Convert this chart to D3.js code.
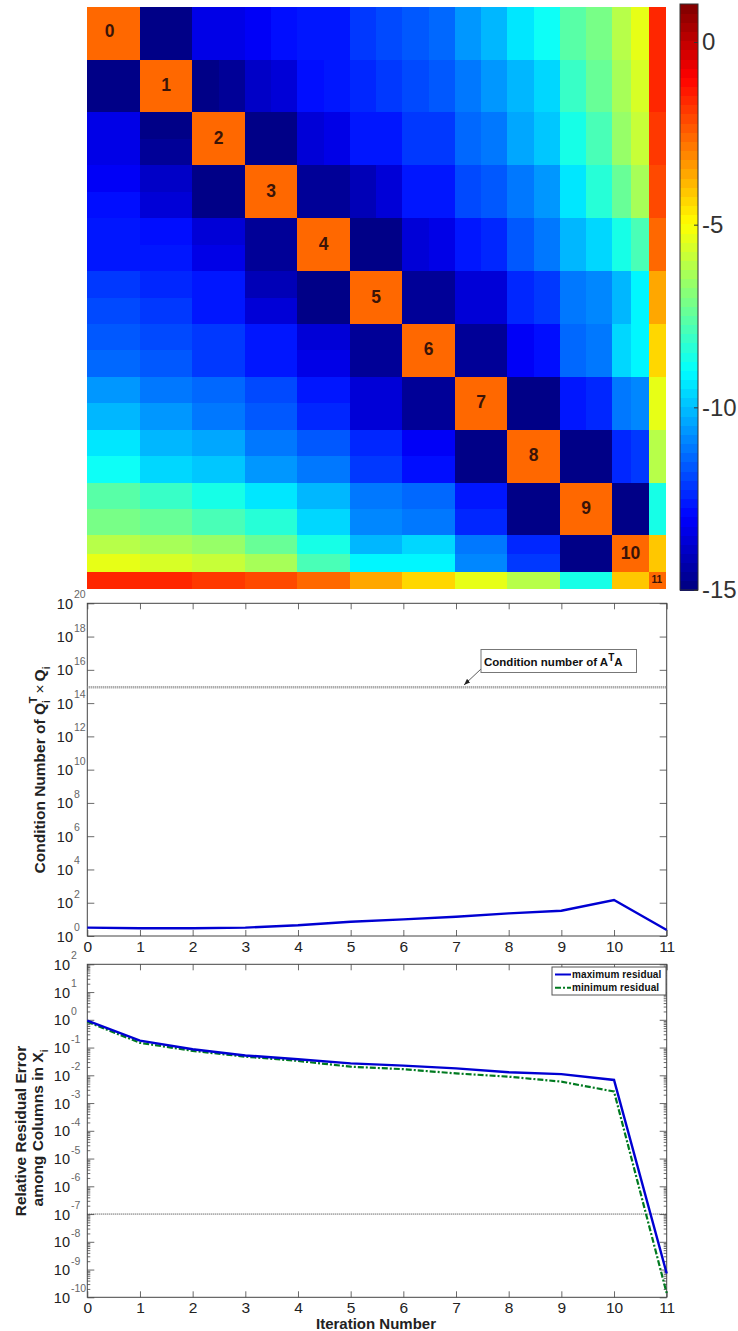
<!DOCTYPE html>
<html><head><meta charset="utf-8">
<script src="https://cdn.jsdelivr.net/npm/d3@7/dist/d3.min.js"></script>
<style>
html,body{margin:0;padding:0;background:#fff}
svg{display:block}
text{font-family:"Liberation Sans",Arial,sans-serif}
</style></head><body>
<svg id="c" width="738" height="1331"></svg>
<script>
// ---------- heat map data (log10 |Qi^T Qj|) ----------
const blockLabels = ["0","1","2","3","4","5","6","7","8","9","10","11"];
const blockSizes = [32,32,32,32,32,32,32,32,32,32,22,10];
const diagonalValue = -2.6;
// each row lists, for blocks right of the diagonal, [near half, far half]
const row0  = [[-14.9,-14.9],[-13.4,-13.3],[-13.1,-12.9],[-12.7,-12.5],[-12.2,-11.8],[-11.7,-11.3],[-10.6,-10.1],[-9.4,-8.8],[-7.7,-7.0],[-6.0,-5.3],[-1.6,-1.6]];
const row1  = [[-14.8,-14.7],[-13.8,-13.6],[-12.8,-12.6],[-12.3,-12.0],[-11.8,-11.6],[-11.0,-10.6],[-10.0,-9.5],[-8.2,-7.3],[-6.4,-5.5],[-1.6,-1.6]];
const row2  = [[-14.8,-14.8],[-13.5,-13.4],[-12.7,-12.6],[-12.2,-12.0],[-11.3,-11.0],[-10.3,-9.9],[-8.5,-7.8],[-6.7,-5.8],[-1.8,-1.8]];
const row3  = [[-14.7,-14.7],[-14.2,-13.5],[-12.7,-12.5],[-11.9,-11.6],[-11.0,-10.6],[-9.3,-8.4],[-7.3,-6.3],[-2.0,-2.0]];
const row4  = [[-14.8,-14.8],[-13.5,-13.4],[-12.6,-12.3],[-11.7,-11.2],[-10.0,-9.5],[-8.7,-7.8],[-2.6,-2.6]];
const row5  = [[-14.6,-14.6],[-13.7,-13.6],[-12.3,-12.0],[-11.0,-10.8],[-10.0,-9.1],[-3.6,-3.6]];
const row6  = [[-14.7,-14.7],[-13.1,-12.8],[-11.3,-11.0],[-9.5,-9.1],[-4.4,-4.4]];
const row7  = [[-14.8,-14.8],[-12.6,-12.4],[-11.2,-10.9],[-5.4,-5.4]];
const row8  = [[-14.8,-14.8],[-12.4,-12.2],[-6.0,-6.0]];
const row9  = [[-14.9,-14.9],[-8.5,-8.5]];
const row10 = [[-4.2,-4.2]];
const offDiagonal = [row0,row1,row2,row3,row4,row5,row6,row7,row8,row9,row10];
const colorMin = -15, colorMax = 1.04;
const colorTicks = [-15,-10,-5,0];

// ---------- line charts ----------
const iterations = [0,1,2,3,4,5,6,7,8,9,10,11];
const conditionQ = [3.2,2.9,2.9,3.2,4.4,7.2,10,14.5,23,33,145,2.3];
const conditionA = 9e14;
const conditionDecades = [0,2,4,6,8,10,12,14,16,18,20];
const maxResidual = [0.93,0.178,0.087,0.052,0.038,0.027,0.0224,0.0178,0.0129,0.011,0.0068,7.2e-10];
const minResidual = [0.85,0.148,0.076,0.047,0.033,0.0204,0.0166,0.0117,0.0089,0.0059,0.0026,1.4e-10];
const residualTarget = 1e-7;
const residualDecades = [-10,-9,-8,-7,-6,-5,-4,-3,-2,-1,0,1,2];
const minorMultipliers = [2,3,4,5,6,7,8,9];

const svg = d3.select("#c");
const defs = svg.append("defs");
defs.append("filter").attr("id","soft").attr("x","0").attr("y","0").attr("width","1").attr("height","1")
  .append("feGaussianBlur").attr("stdDeviation",0.7);
const arrow = defs.append("marker").attr("id","arrow").attr("viewBox","0 0 8 6").attr("refX",8).attr("refY",3)
  .attr("markerWidth",8).attr("markerHeight",6).attr("orient","auto");
arrow.append("path").attr("d","M0,0L8,3L0,6Z").attr("fill","#222");

// jet colour map
function jet(t){
  const c = x => Math.max(0,Math.min(1,x));
  const r = c(Math.min(4*t-1.5,-4*t+4.5)), g = c(Math.min(4*t-0.5,-4*t+3.5)), b = c(Math.min(4*t+0.5,-4*t+2.5));
  return d3.rgb(r*255,g*255,b*255);
}
const colorT = v => (v-colorMin)/(colorMax-colorMin);
const levels = d3.range(64);
const stepped = v => jet((Math.min(63,Math.floor(colorT(v)*64))+0.5)/64);

// ---------- heat map ----------
const total = d3.sum(blockSizes);
const edges = [0]; blockSizes.forEach(s=>edges.push(edges[edges.length-1]+s));
const hx = d3.scaleLinear().domain([0,total]).range([87.3,665]);
const hy = d3.scaleLinear().domain([0,total]).range([6.7,588.3]);
const cells = [];
blockSizes.forEach((si,i)=>{
  cells.push({x0:edges[i],x1:edges[i+1],y0:edges[i],y1:edges[i+1],v:diagonalValue});
  if(i<offDiagonal.length) offDiagonal[i].forEach((pair,k)=>{
    const j=i+1+k, s=blockSizes[j]/2;
    pair.forEach((v,h)=>{
      const a=edges[j]+h*s, b=a+s;
      cells.push({x0:a,x1:b,y0:edges[i],y1:edges[i+1],v});
      cells.push({x0:edges[i],x1:edges[i+1],y0:a,y1:b,v});
    });
  });
});
const heat = svg.append("g").attr("filter","url(#soft)").attr("shape-rendering","crispEdges");
heat.selectAll("rect").data(cells).join("rect")
  .attr("x",d=>hx(d.x0)).attr("y",d=>hy(d.y0))
  .attr("width",d=>hx(d.x1)-hx(d.x0)+0.6).attr("height",d=>hy(d.y1)-hy(d.y0)+0.6)
  .attr("fill",d=>stepped(d.v));
svg.append("g").selectAll("text").data(blockLabels).join("text")
  .attr("x",(d,i)=>(hx(edges[i])+hx(edges[i+1]))/2-(i===0?4:0))
  .attr("y",(d,i)=>(hy(edges[i])+hy(edges[i+1]))/2-(i===0?2:1))
  .attr("text-anchor","middle").attr("dominant-baseline","central")
  .attr("font-weight","bold").attr("font-size",(d,i)=>i===11?10:17.5).attr("fill","#3a1408").text(d=>d);

// ---------- colour bar ----------
const cbY = d3.scaleLinear().domain([colorMin,colorMax]).range([590,4]);
const cbX0=680, cbX1=698;
svg.append("g").attr("shape-rendering","crispEdges").selectAll("rect").data(levels).join("rect")
  .attr("x",cbX0).attr("width",cbX1-cbX0)
  .attr("y",i=>cbY(colorMin+(i+1)/64*(colorMax-colorMin)))
  .attr("height",i=>cbY(colorMin+i/64*(colorMax-colorMin))-cbY(colorMin+(i+1)/64*(colorMax-colorMin))+0.6)
  .attr("fill",i=>jet((i+0.5)/64));
svg.append("rect").attr("x",cbX0).attr("y",4).attr("width",cbX1-cbX0).attr("height",586)
  .attr("fill","none").attr("stroke","#333").attr("stroke-width",1);
const cbAxis = svg.append("g").attr("transform",`translate(${cbX1},0)`)
  .call(d3.axisRight(cbY).tickValues(colorTicks).tickFormat(d=>d3.format("d")(d).replace("−","-")).tickSize(-4).tickPadding(4));
cbAxis.select(".domain").remove();
cbAxis.selectAll("line").attr("stroke","#333");
cbAxis.selectAll("text").attr("font-size",24).attr("fill","#333").attr("font-family",'"Liberation Sans",Arial,sans-serif');

// ---------- shared line chart frame ----------
function frame(top,bottom,domain,decades,baseEndX,minor){
  const left=87.3,right=666.7;
  const x=d3.scaleLinear().domain([0,11]).range([left,right]);
  const y=d3.scaleLog().domain(domain).range([bottom,top]);
  const g=svg.append("g");
  const major=decades.map(d=>Math.pow(10,d));
  g.append("g").attr("transform",`translate(0,${bottom})`)
    .call(d3.axisBottom(x).tickValues(iterations).tickFormat(d3.format("d")).tickSize(-6).tickPadding(4.5))
    .call(a=>{a.select(".domain").remove();
      a.selectAll("text").attr("font-size",15.5).attr("fill","#222").attr("font-family",'"Liberation Sans",Arial,sans-serif');});
  g.append("g").attr("transform",`translate(0,${top})`)
    .call(d3.axisTop(x).tickValues(iterations).tickFormat("").tickSize(-6))
    .call(a=>a.select(".domain").remove());
  g.append("g").attr("transform",`translate(${left},0)`)
    .call(d3.axisLeft(y).tickValues(major).tickFormat("").tickSize(-7))
    .call(a=>a.select(".domain").remove());
  g.append("g").attr("transform",`translate(${right},0)`)
    .call(d3.axisRight(y).tickValues(major).tickFormat("").tickSize(-7))
    .call(a=>a.select(".domain").remove());
  if(minor){
    const mins=[]; decades.slice(0,-1).forEach(d=>minorMultipliers.forEach(m=>mins.push(m*Math.pow(10,d))));
    g.append("g").attr("transform",`translate(${left},0)`)
      .call(d3.axisLeft(y).tickValues(mins).tickFormat("").tickSize(-3)).call(a=>a.select(".domain").remove());
    g.append("g").attr("transform",`translate(${right},0)`)
      .call(d3.axisRight(y).tickValues(mins).tickFormat("").tickSize(-3)).call(a=>a.select(".domain").remove());
  }
  g.selectAll("line").attr("stroke","#444").attr("stroke-width",0.8);
  g.append("rect").attr("x",left).attr("y",top).attr("width",right-left).attr("height",bottom-top)
    .attr("fill","none").attr("stroke","#444").attr("stroke-width",1);
  // tick labels: base "10" and its exponent
  const labels=g.append("g");
  labels.selectAll("text.base").data(decades).join("text").attr("class","base")
    .attr("x",baseEndX).attr("y",d=>y(Math.pow(10,d))+5.5).attr("text-anchor","end")
    .attr("font-size",14.5).attr("fill","#222").text("10");
  labels.selectAll("text.exp").data(decades).join("text").attr("class","exp")
    .attr("x",baseEndX+1).attr("y",d=>y(Math.pow(10,d))-5).attr("text-anchor","start")
    .attr("font-size",10.5).attr("fill","#666").text(d=>d);
  return {x,y,left,right};
}
const lineOf=(s)=>d3.line().x((d,i)=>s.x(iterations[i])).y(d=>s.y(d));

// ---------- condition number chart ----------
const c2=frame(603.3,936,[1,1e20],conditionDecades,73,false);
svg.append("line").attr("x1",c2.left).attr("x2",c2.right).attr("y1",c2.y(conditionA)).attr("y2",c2.y(conditionA))
  .attr("stroke","#888").attr("stroke-width",2.4).attr("stroke-dasharray","1 1");
svg.append("path").datum(conditionQ).attr("d",lineOf(c2)).attr("fill","none").attr("stroke","#0000d2").attr("stroke-width",2.4);
svg.append("line").attr("x1",481).attr("y1",669).attr("x2",464).attr("y2",685)
  .attr("stroke","#333").attr("stroke-width",0.8).attr("marker-end","url(#arrow)");
svg.append("rect").attr("x",481).attr("y",649.5).attr("width",155.5).attr("height",23)
  .attr("fill","#fff").attr("stroke","#777").attr("stroke-width",1);
const note=svg.append("text").attr("x",484).attr("y",666).attr("font-size",11.5).attr("font-weight","bold").attr("fill","#111");
note.append("tspan").text("Condition number of A");
note.append("tspan").attr("dy",-5).attr("font-size",10).text("T");
note.append("tspan").attr("dy",5).text("A");
const t2=svg.append("text").attr("transform","translate(44.5,770) rotate(-90)").attr("text-anchor","middle")
  .attr("font-size",15.5).attr("font-weight","bold").attr("fill","#222");
t2.append("tspan").text("Condition Number of Q");
t2.append("tspan").attr("dy",5).attr("font-size",10).text("i");
t2.append("tspan").attr("dy",-13).attr("dx",-3).attr("font-size",11).text("T");
t2.append("tspan").attr("dy",8).attr("dx",3).attr("font-weight","normal").text("×");
t2.append("tspan").attr("dx",3).text("Q");
t2.append("tspan").attr("dy",5).attr("font-size",10).text("i");

// ---------- residual chart ----------
const c3=frame(964.3,1297.3,[1e-10,1e2],residualDecades,70,true);
svg.append("line").attr("x1",c3.left).attr("x2",c3.right).attr("y1",c3.y(residualTarget)).attr("y2",c3.y(residualTarget))
  .attr("stroke","#333").attr("stroke-width",1).attr("stroke-dasharray","1 1");
svg.append("path").datum(minResidual).attr("d",lineOf(c3)).attr("fill","none").attr("stroke","#007a20").attr("stroke-width",2.2).attr("stroke-dasharray","6 2 2 2");
svg.append("path").datum(maxResidual).attr("d",lineOf(c3)).attr("fill","none").attr("stroke","#0000d2").attr("stroke-width",2.4);
svg.append("rect").attr("x",552).attr("y",967).attr("width",114).attr("height",28)
  .attr("fill","#fff").attr("stroke","#555").attr("stroke-width",1);
svg.append("line").attr("x1",555).attr("x2",571).attr("y1",974.5).attr("y2",974.5).attr("stroke","#0000d2").attr("stroke-width",2);
svg.append("line").attr("x1",555).attr("x2",571).attr("y1",987.8).attr("y2",987.8).attr("stroke","#007a20").attr("stroke-width",2).attr("stroke-dasharray","6 2 2 2");
[["maximum residual",978],["minimum residual",991.3]].forEach(([s,yy])=>{
  svg.append("text").attr("x",572).attr("y",yy).attr("font-size",10).attr("font-weight","bold").attr("fill","#111")
    .attr("letter-spacing",0.1).text(s);
});
svg.append("text").attr("transform","translate(26,1131) rotate(-90)").attr("text-anchor","middle")
  .attr("font-size",15.5).attr("font-weight","bold").attr("fill","#222").text("Relative Residual Error");
const t3=svg.append("text").attr("transform","translate(42.5,1128) rotate(-90)").attr("text-anchor","middle")
  .attr("font-size",15.5).attr("font-weight","bold").attr("fill","#222");
t3.append("tspan").text("among Columns in X");
t3.append("tspan").attr("dy",5).attr("font-size",10).text("i");
svg.append("text").attr("x",376).attr("y",1328.5).attr("text-anchor","middle")
  .attr("font-size",15).attr("font-weight","bold").attr("fill","#222").text("Iteration Number");
</script>
</body></html>
